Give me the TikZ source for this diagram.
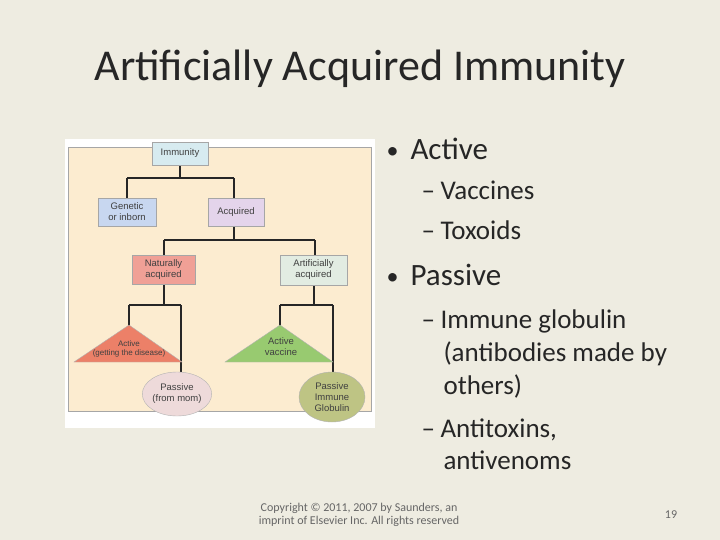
\documentclass[tikz,border=0pt]{standalone}
\usepackage{fontspec}
\usetikzlibrary{shapes.geometric}
\setmainfont{Carlito}
\newfontfamily\dfont{Liberation Sans}
\newcommand{\mydash}{\makebox[19pt][l]{–}}
\newcommand{\mybul}{\makebox[24pt][l]{\raisebox{1pt}{\fontsize{24}{24}\selectfont•}}}
\begin{document}
\begin{tikzpicture}[x=1pt,y=-1pt,
  box/.style={draw=gray!70,line width=0.4pt,minimum width=#1,align=center,inner sep=1pt,font=\dfont\fontsize{9.5}{11}\selectfont,text=black!75},
  conn/.style={line width=2.2pt,draw=black!85},
  bul/.style={anchor=base west,font=\fontsize{31}{36}\selectfont,text=black!85},
  sub/.style={anchor=base west,font=\fontsize{27}{32}\selectfont,text=black!85,align=left}]
\definecolor{slide}{RGB}{238,236,225}
\fill[slide] (0,0) rectangle (720,540);
\useasboundingbox (0,0) rectangle (720,540);
\node[font=\fontsize{44}{48}\selectfont,text=black!85,anchor=base] (title) at (360,81) {Artificially Acquired Immunity};
% diagram
\fill[white] (65,139) rectangle (375,428);
\draw[fill={rgb,255:red,252;green,236;blue,208},draw=gray!70] (68,147) rectangle (371,411);
\draw[conn] (180,165) -- (180,178);
\draw[conn] (127,178) -- (234,178);
\draw[conn] (127,178) -- (127,198);
\draw[conn] (234,178) -- (234,198);
\draw[conn] (234,226) -- (234,240);
\draw[conn] (164,240) -- (315,240);
\draw[conn] (164,240) -- (164,255);
\draw[conn] (315,240) -- (315,255);
\draw[conn] (164,284) -- (164,305);
\draw[conn] (129,305) -- (181,305);
\draw[conn] (129,305) -- (129,326);
\draw[conn] (181,305) -- (181,372);
\draw[conn] (314,285) -- (314,305);
\draw[conn] (280,305) -- (333,305);
\draw[conn] (280,305) -- (280,326);
\draw[conn] (333,305) -- (333,373);
\node[box=56pt,minimum height=23pt,fill={rgb,255:red,215;green,235;blue,240}] (imm) at (180,153.5) {Immunity};
\node[box=58pt,minimum height=28pt,fill={rgb,255:red,200;green,215;blue,240}] (gen) at (127,212) {Genetic\\or inborn};
\node[box=56pt,minimum height=28pt,fill={rgb,255:red,228;green,212;blue,235}] (acq) at (236,212) {Acquired};
\node[box=63pt,minimum height=29pt,fill={rgb,255:red,240;green,160;blue,150}] (nat) at (163.5,269.5) {Naturally\\acquired};
\node[box=67pt,minimum height=30pt,fill={rgb,255:red,226;green,236;blue,226}] (art) at (313.5,270) {Artificially\\acquired};
\draw[fill={rgb,255:red,236;green,128;blue,104},draw=gray!60] (74,362) -- (182,362) -- (129,325) -- cycle;
\node[font=\dfont\fontsize{8}{9}\selectfont,align=center,text=black!75] (ta) at (129,349) {Active\\(getting the disease)};
\draw[fill={rgb,255:red,152;green,202;blue,112},draw=gray!60] (225,362) -- (333,362) -- (280,325) -- cycle;
\node[font=\dfont\fontsize{9.5}{11}\selectfont,align=center,text=black!75] (tv) at (281,347) {Active\\vaccine};
\node[draw=gray!60,ellipse,fill={rgb,255:red,238;green,218;blue,218},minimum width=60pt,minimum height=44pt,inner sep=0pt,font=\dfont\fontsize{9.5}{11}\selectfont,align=center,text=black!75] (pm) at (177,394) {Passive\\(from mom)};
\node[draw=gray!60,ellipse,fill={rgb,255:red,190;green,196;blue,132},minimum width=66pt,minimum height=50pt,inner sep=0pt,font=\dfont\fontsize{9.5}{11}\selectfont,align=center,text=black!75] (pg) at (332,397) {Passive\\Immune\\Globulin};
% bullets
\node[bul] (b1) at (383,160) {\mybul Active};
\node[sub] (s1) at (418,200) {\mydash Vaccines};
\node[sub] (s2) at (418,240) {\mydash Toxoids};
\node[bul] (b2) at (383,285) {\mybul Passive};
\node[sub] (s3) at (418,328) {\mydash Immune globulin};
\node[sub] (s4) at (440,361) {(antibodies made by};
\node[sub] (s5) at (440,394) {others)};
\node[sub] (s6) at (418,437) {\mydash Antitoxins,};
\node[sub] (s7) at (440,469) {antivenoms};
\node[font=\fontsize{12}{13}\selectfont,align=center,text=black!60] (foot) at (359,515) {Copyright © 2011, 2007 by Saunders, an\\imprint of Elsevier Inc. All rights reserved};
\node[font=\fontsize{12}{12}\selectfont,text=black!60] (pg19) at (671,515) {19};
\end{tikzpicture}
\end{document}
